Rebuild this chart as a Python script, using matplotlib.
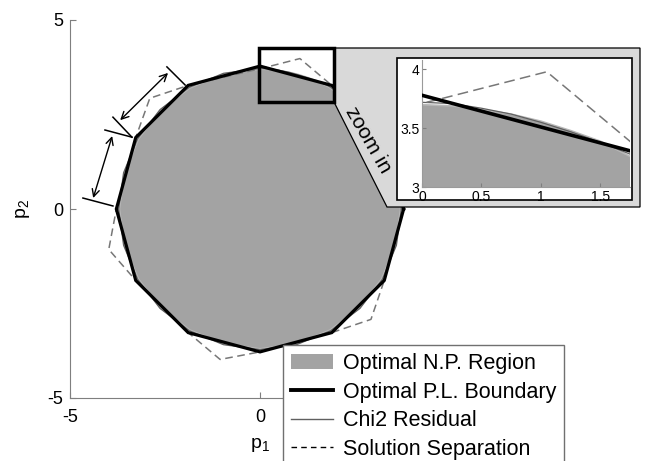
import matplotlib
matplotlib.use('Agg')
import matplotlib.pyplot as plt
from matplotlib.patches import Polygon, Rectangle, Patch
from matplotlib.lines import Line2D

plt.rcParams['font.family'] = ['Liberation Sans', 'DejaVu Sans']
plt.rcParams['mathtext.fontset'] = 'custom'
plt.rcParams['mathtext.rm'] = 'Liberation Sans'
plt.rcParams['mathtext.it'] = 'Liberation Sans:italic'
plt.rcParams['axes.unicode_minus'] = False

# optimal N.P. region (outline points, counter-clockwise)
np_x = [3.70, 3.57, 3.20, 2.62, 1.85, 1.75, 1.50, 1.25, 1.00, 0.75, 0.50, 0.25, 0.00,
        -0.96, -1.85, -2.62, -3.20, -3.57, -3.70, -3.57, -3.20, -2.62, -1.85, -0.96,
        0.00, 0.96, 1.85, 2.62, 3.20, 3.57]
np_y = [0.00, 0.96, 1.85, 2.62, 3.20, 3.26, 3.39, 3.48, 3.56, 3.62, 3.66, 3.69, 3.70,
        3.57, 3.20, 2.62, 1.85, 0.96, 0.00, -0.96, -1.85, -2.62, -3.20, -3.57,
        -3.70, -3.57, -3.20, -2.62, -1.85, -0.96]

# chi2 residual boundary
chi_x = [3.72, 3.59, 3.22, 2.63, 1.86, 1.75, 1.50, 1.25, 1.00, 0.75, 0.50, 0.25, 0.00,
         -0.96, -1.86, -2.63, -3.22, -3.59, -3.72, -3.59, -3.22, -2.63, -1.86, -0.96,
         0.00, 0.96, 1.86, 2.63, 3.22, 3.59]
chi_y = [0.00, 0.96, 1.86, 2.63, 3.22, 3.28, 3.38, 3.47, 3.55, 3.62, 3.67, 3.71, 3.72,
         3.59, 3.22, 2.63, 1.86, 0.96, 0.00, -0.96, -1.86, -2.63, -3.22, -3.59,
         -3.72, -3.59, -3.22, -2.63, -1.86, -0.96]

# optimal P.L. boundary
pl_x = [3.78, 3.27, 1.89, 0.00, -1.89, -3.27, -3.78, -3.27, -1.89, 0.00, 1.89, 3.27]
pl_y = [0.00, 1.89, 3.27, 3.78, 3.27, 1.89, 0.00, -1.89, -3.27, -3.78, -3.27, -1.89]

# solution separation boundary
ss_x = [3.78, 3.98, 3.27, 1.89, 1.05, 0.12, -1.89, -2.90, -3.27, -3.78, -3.98, -3.27,
        -1.89, -1.05, 0.00, 1.89, 2.92, 3.27]
ss_y = [0.00, 1.07, 1.89, 3.27, 3.98, 3.74, 3.27, 2.93, 1.89, 0.00, -1.07, -1.89,
        -3.27, -3.98, -3.78, -3.27, -2.92, -1.89]

# edge-length markers: end bars and double arrows
bars = [((-4.66, 0.29), (-3.87, 0.08)),
        ((-4.08, 2.09), (-3.37, 1.90)),
        ((-3.87, 2.43), (-3.37, 1.90)),
        ((-2.45, 3.76), (-1.97, 3.28))]
arrows = [((-4.39, 0.29), (-3.89, 1.93)),
          ((-3.68, 2.35), (-2.42, 3.60))]

zoom_x = (-0.03, 1.95)
zoom_y = (2.83, 4.26)

labels = ['Optimal N.P. Region', 'Optimal P.L. Boundary', 'Chi2 Residual', 'Solution Separation']

W, H = 655, 461
FILL = '#a3a3a3'
EDGE = '#b8b8b8'
CHI = '#606060'
SS = '#777777'


def fx(px):
    return px / W


def fy(py):
    return 1 - py / H


def draw_sets(a, lw_pl, dash):
    a.add_patch(Polygon(list(zip(np_x, np_y)), closed=True, facecolor=FILL,
                        edgecolor=EDGE, lw=1.2, zorder=1))
    a.plot(chi_x + chi_x[:1], chi_y + chi_y[:1], color=CHI, lw=0.9, zorder=2)
    a.plot(ss_x + ss_x[:1], ss_y + ss_y[:1], color=SS, lw=1.1, ls=(0, dash), zorder=3)
    a.plot(pl_x + pl_x[:1], pl_y + pl_y[:1], color='black', lw=lw_pl, zorder=4,
           solid_joinstyle='miter')


fig = plt.figure(figsize=(W / 100, H / 100), dpi=100)
ax = fig.add_axes([fx(70), fy(398), 380 / W, 378 / H])
draw_sets(ax, 2.3, (5, 3))

for (p, q) in bars:
    ax.plot([p[0], q[0]], [p[1], q[1]], color='black', lw=1.1, zorder=5)
for (p, q) in arrows:
    ax.annotate('', xy=q, xytext=p,
                arrowprops=dict(arrowstyle='<->', color='black', lw=1.0,
                                shrinkA=0, shrinkB=0, mutation_scale=13))

ax.set_xlim(-5, 5)
ax.set_ylim(-5, 5)
ax.set_xticks([-5, 0, 5])
ax.set_xticklabels(['-5', '0', ''])  # the +5 label sits under the legend
ax.set_yticks([-5, 0, 5])
ax.tick_params(direction='in', length=4, labelsize=13, color='#7f7f7f', pad=5)
ax.tick_params(axis='x', pad=8)
for s in ['top', 'right']:
    ax.spines[s].set_visible(False)
for s in ['left', 'bottom']:
    ax.spines[s].set_color('#7f7f7f')
ax.set_xlabel(r'$\mathrm{p}_1$', fontsize=14)
ax.set_ylabel(r'$\mathrm{p}_2$', fontsize=14)
ax.xaxis.set_label_coords(0.5, -0.1)
ax.yaxis.set_label_coords(-0.1, 0.5)

# callout panel linking the zoom window to the inset
panel = Polygon([(fx(334), fy(48)), (fx(640), fy(48)), (fx(640), fy(207)),
                 (fx(387), fy(207)), (fx(334), fy(102))], closed=True,
                transform=fig.transFigure, facecolor='#d9d9d9', edgecolor='black',
                lw=0.9, zorder=2)
fig.patches.append(panel)
fig.patches.append(Rectangle((zoom_x[0], zoom_y[0]), zoom_x[1] - zoom_x[0],
                             zoom_y[1] - zoom_y[0], transform=ax.transData,
                             fill=False, edgecolor='black', lw=2.5, zorder=3))
fig.patches.append(Rectangle((fx(397), fy(200)), fx(632) - fx(397), fy(58) - fy(200),
                             transform=fig.transFigure, facecolor='white',
                             edgecolor='black', lw=1.2, zorder=3))
fig.text(fx(368), fy(140), 'zoom in', rotation=-60, ha='center', va='center',
         fontsize=15, zorder=4)

# inset
axi = fig.add_axes([fx(422), fy(187), 208 / W, 127 / H], zorder=4)
axi.set_facecolor('none')
draw_sets(axi, 2.6, (7, 3.5))
axi.set_xlim(0, 1.75)
axi.set_ylim(3, 4.08)
axi.set_xticks([0, 0.5, 1, 1.5])
axi.set_xticklabels(['0', '0.5', '1', '1.5'])
axi.set_yticks([3, 3.5, 4])
axi.set_yticklabels(['3', '3.5', '4'])
axi.tick_params(direction='in', length=3, labelsize=10, color='#7f7f7f', pad=1)
axi.tick_params(axis='x', pad=2)
axi.tick_params(axis='y', pad=2)
for s in ['top', 'right']:
    axi.spines[s].set_visible(False)
for s in ['left', 'bottom']:
    axi.spines[s].set_color('#9a9a9a')

handles = [Patch(facecolor=FILL, edgecolor='none'),
           Line2D([], [], color='black', lw=2.8),
           Line2D([], [], color=CHI, lw=1.0),
           Line2D([], [], color='black', lw=1.0, ls=(0, (4, 3)))]
fig.legend(handles, labels, loc='upper left', bbox_to_anchor=(fx(283), fy(345)),
           borderaxespad=0, fontsize=15.5, frameon=True, fancybox=False,
           edgecolor='#707070', framealpha=1, borderpad=0.37, labelspacing=0.35,
           handlelength=1.95, handletextpad=0.47, handleheight=0.7)

fig.savefig('out.png', dpi=100)
